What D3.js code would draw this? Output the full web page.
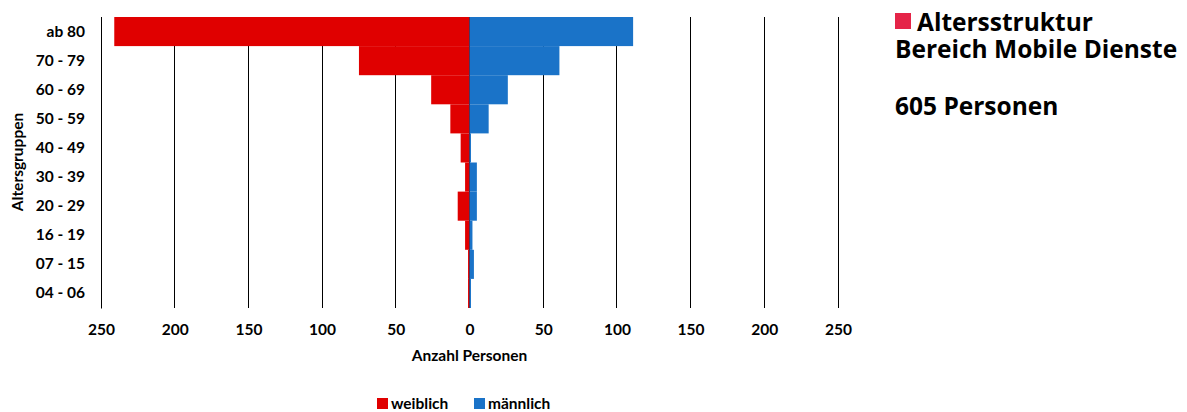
<!DOCTYPE html>
<html><head><meta charset="utf-8">
<script src="https://cdn.jsdelivr.net/npm/d3@7"></script>
<style>body{margin:0;background:#fff}svg{display:block}</style>
</head><body><div id="c"></div>
<script>
const ageGroups = ["ab 80","70 - 79","60 - 69","50 - 59","40 - 49","30 - 39","20 - 29","16 - 19","07 - 15","04 - 06"];
const female = [241,75,26,13,6,3,8,3,1,1];
const male   = [111,61,26,13,1,5,5,2,3,1];
const tickValues = [-250,-200,-150,-100,-50,0,50,100,150,200,250];
const seriesNames = ["weiblich","männlich"];
const titleLines = ["Altersstruktur","Bereich Mobile Dienste","605 Personen"];

const W=1187,H=412;
const svg=d3.select("#c").append("svg").attr("width",W).attr("height",H);
const x=d3.scaleLinear().domain([-250,250]).range([101,838]);
const y=d3.scaleBand().domain(ageGroups).range([17,308]).padding(0);
const red="#e00000", blue="#1a73c8";
const font="Lato, 'Open Sans', sans-serif";
const fs=15.5;

// gridlines
svg.append("g").selectAll("line").data(tickValues).join("line")
  .attr("x1",d=>x(d)).attr("x2",d=>x(d)).attr("y1",17).attr("y2",308)
  .attr("stroke","#000").attr("stroke-width",1).attr("shape-rendering","crispEdges");

// bars
svg.append("g").selectAll("rect").data(ageGroups).join("rect")
  .attr("x",(d,i)=>x(-female[i])).attr("width",(d,i)=>x(0)-x(-female[i]))
  .attr("y",d=>y(d)).attr("height",y.bandwidth()).attr("fill",red);
svg.append("g").selectAll("rect").data(ageGroups).join("rect")
  .attr("x",x(0)).attr("width",(d,i)=>x(male[i])-x(0))
  .attr("y",d=>y(d)).attr("height",y.bandwidth()).attr("fill",blue);

// y axis
const ya=svg.append("g").attr("transform","translate(101,0)").call(d3.axisLeft(y).tickSize(0).tickPadding(16));
ya.select(".domain").attr("stroke","#000");
ya.selectAll("text").attr("font-family",font).attr("font-weight","bold").attr("font-size",fs).attr("fill","#000");

// x axis labels
const xa=svg.append("g").attr("transform","translate(0,308)")
  .call(d3.axisBottom(x).tickValues(tickValues).tickSize(0).tickPadding(16).tickFormat(d=>Math.abs(d)));
xa.select(".domain").remove();
xa.selectAll("text").attr("font-family",font).attr("font-weight","bold").attr("font-size",fs).attr("fill","#000");

svg.append("text").attr("x",x(0)).attr("y",361).attr("text-anchor","middle")
  .attr("font-family",font).attr("font-weight","bold").attr("font-size",fs).text("Anzahl Personen");
svg.append("text").attr("transform","translate(23,162) rotate(-90)").attr("text-anchor","middle")
  .attr("font-family",font).attr("font-weight","bold").attr("font-size",fs).text("Altersgruppen");

// legend
const lg=svg.append("g");
const lx=[377,474];
[red,blue].forEach((c,i)=>{
  lg.append("rect").attr("x",lx[i]).attr("y",398).attr("width",11).attr("height",11).attr("fill",c);
  lg.append("text").attr("x",lx[i]+14).attr("y",409).attr("font-family",font).attr("font-weight","bold")
    .attr("font-size",fs).text(seriesNames[i]);
});

// title
const tf="'Open Sans', 'Noto Sans', sans-serif";
const tfs=24.5;
svg.append("rect").attr("x",895).attr("y",13).attr("width",16).attr("height",16).attr("fill","#e52448");
svg.append("text").attr("x",917).attr("y",31).attr("font-family",tf).attr("font-weight","bold").attr("font-size",tfs).text(titleLines[0]);
svg.append("text").attr("x",895).attr("y",58).attr("font-family",tf).attr("font-weight","bold").attr("font-size",tfs).text(titleLines[1]);
svg.append("text").attr("x",895).attr("y",115).attr("font-family",tf).attr("font-weight","bold").attr("font-size",tfs).text(titleLines[2]);
</script></body></html>
